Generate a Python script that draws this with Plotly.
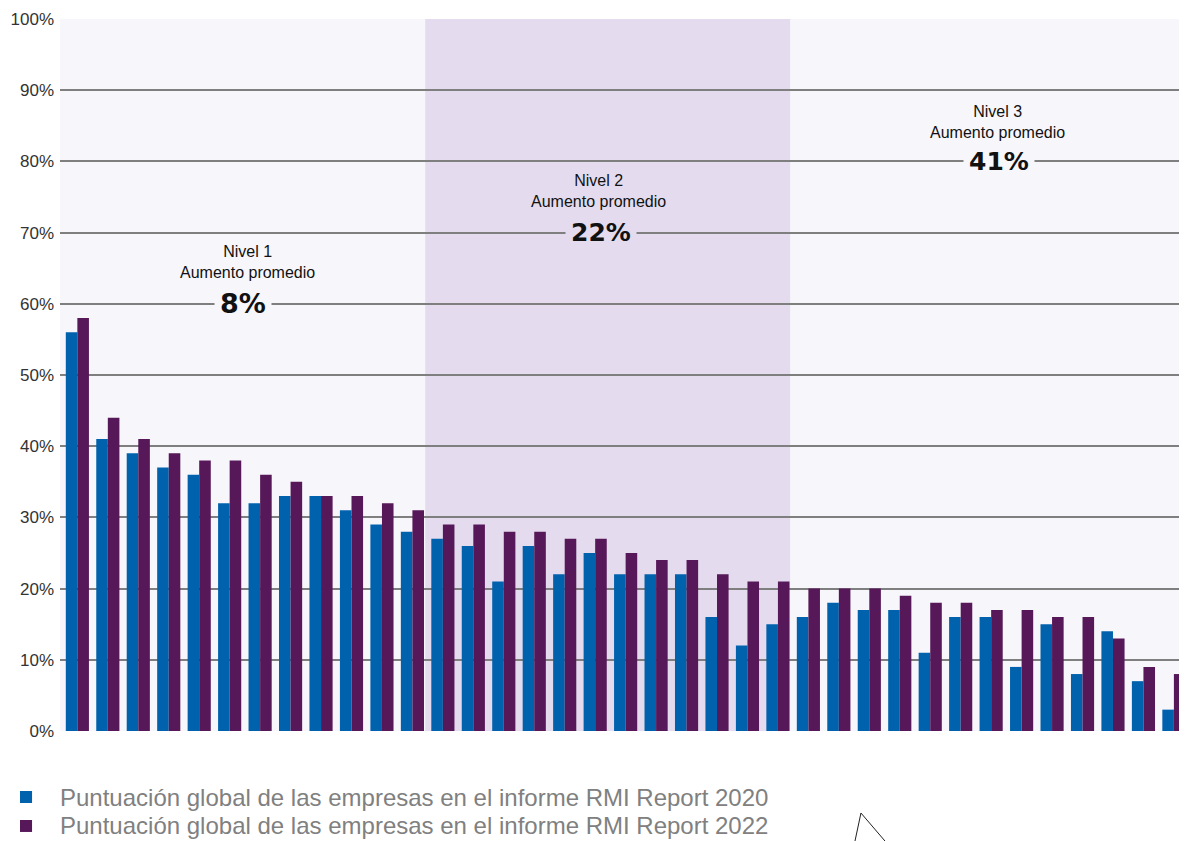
import plotly.graph_objects as go

companies = list(range(1, 38))
score_2020 = [56, 41, 39, 37, 36, 32, 32, 33, 33, 31, 29, 28,
              27, 26, 21, 26, 22, 25, 22, 22, 22, 16, 12, 15,
              16, 18, 17, 17, 11, 16, 16, 9, 15, 8, 14, 7, 3]
score_2022 = [58, 44, 41, 39, 38, 38, 36, 35, 33, 33, 32, 31,
              29, 29, 28, 28, 27, 27, 25, 24, 24, 22, 21, 21,
              20, 20, 20, 19, 18, 18, 17, 17, 16, 16, 13, 9, 8]
series_names = ["Puntuación global de las empresas en el informe RMI Report 2020",
                "Puntuación global de las empresas en el informe RMI Report 2022"]
level_labels = ["Nivel 1<br>Aumento promedio", "Nivel 2<br>Aumento promedio",
                "Nivel 3<br>Aumento promedio"]
level_values = ["8%", "22%", "41%"]
tick_vals = list(range(0, 101, 10))
tick_text = [f"{v}%" for v in tick_vals]

BLUE = "#0062ad"
PURPLE = "#561858"
BG = "#f7f6fb"
BAND = "#e4dcee"
colors = [BLUE, PURPLE]

x = list(range(len(companies)))

fig = go.Figure()
fig.add_trace(go.Bar(x=x, y=score_2020, name=series_names[0], marker_color=BLUE,
                     marker_line_width=0))
fig.add_trace(go.Bar(x=x, y=score_2022, name=series_names[1], marker_color=PURPLE,
                     marker_line_width=0))

# middle band (Nivel 2)
fig.add_shape(type="rect", xref="x", yref="paper", x0=11.42, x1=23.4, y0=0, y1=1,
              fillcolor=BAND, line_width=0, layer="below")

# level annotations
lvl_x = [5.6, 17.1, 30.2]
lvl_y = [65.9, 75.8, 85.5]
val_x = [5.45, 17.18, 30.25]
val_y = [60, 70, 80]
val_size = [27, 25, 25]
bgs = [BG, BAND, BG]
for i in range(3):
    fig.add_annotation(x=lvl_x[i], y=lvl_y[i], xref="x", yref="y", text=level_labels[i],
                       showarrow=False, font=dict(family="Liberation Sans, Arial", size=16, color="#111"),
                       align="center")
    fig.add_annotation(x=val_x[i], y=val_y[i], xref="x", yref="y", text=f"<b>{level_values[i]}</b>",
                       showarrow=False, font=dict(family="DejaVu Sans", size=val_size[i], color="#111"),
                       bgcolor=bgs[i], borderpad=5, xanchor="center", yanchor="middle")

# legend drawn below the plot (squares + labels)
leg_y = [-0.0927, -0.1334]
for i in range(2):
    fig.add_shape(type="rect", xref="paper", yref="paper", x0=-0.0355, x1=-0.0248,
                  y0=leg_y[i] - 0.0084, y1=leg_y[i] + 0.0084,
                  fillcolor=colors[i], line_width=0)
    fig.add_annotation(x=-0.0018, y=leg_y[i], xref="paper", yref="paper", text=series_names[i],
                       showarrow=False, xanchor="left", yanchor="middle",
                       font=dict(family="Liberation Sans, Arial", size=24, color="#808080"))

# stray stroke at the bottom of the picture
fig.add_shape(type="path", xref="paper", yref="paper",
              path="M 0.7054 -0.1545 L 0.7107 -0.1152 L 0.7320 -0.1545",
              line=dict(color="#222", width=1))

fig.update_layout(
    width=1179, height=833,
    margin=dict(l=52, r=0, t=11, b=110),
    paper_bgcolor="white", plot_bgcolor=BG,
    barmode="group", bargap=0.24, bargroupgap=0,
    showlegend=False,
    xaxis=dict(range=[-0.57, 36.43], showticklabels=False, showgrid=False, zeroline=False,
               ticks=""),
    yaxis=dict(range=[0, 100], tickvals=tick_vals, ticktext=tick_text, showgrid=True,
               gridcolor="#7f7f7f", gridwidth=1.6, zeroline=False, ticks="",
               ticklabelstandoff=5,
               tickfont=dict(family="Liberation Sans, Arial", size=17, color="#333"),
               layer="below traces"),
    font=dict(family="Liberation Sans, Arial"),
)

fig.write_html("out.html")
